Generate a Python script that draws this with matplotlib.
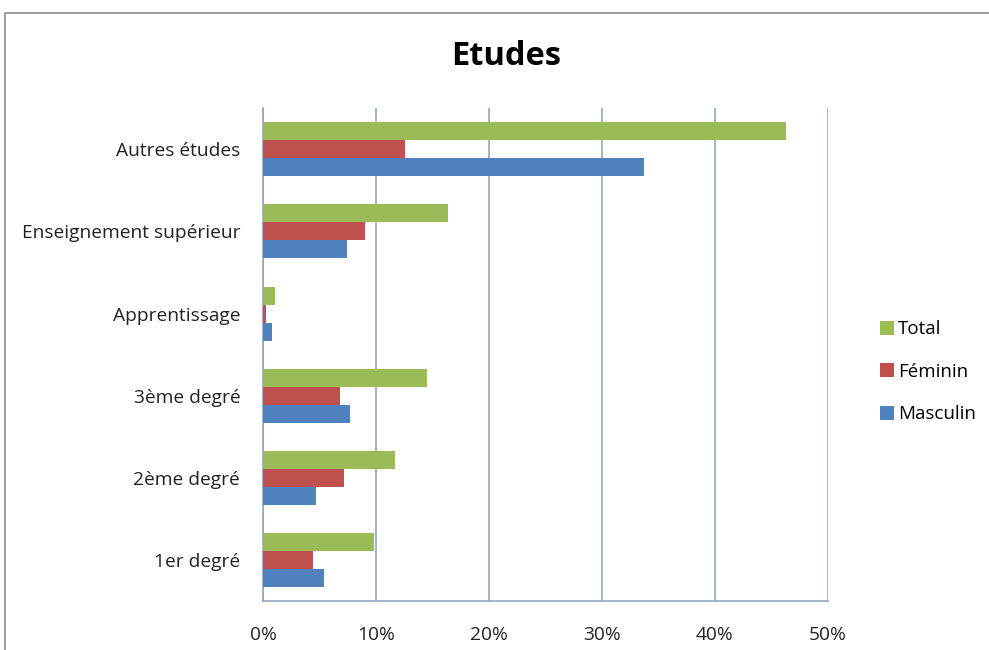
import numpy as np
import matplotlib.pyplot as plt
from matplotlib.patches import Rectangle
from matplotlib.ticker import FuncFormatter

plt.rcParams['font.family'] = ['Open Sans', 'DejaVu Sans']

categories = ['1er degré', '2ème degré', '3ème degré', 'Apprentissage',
              'Enseignement supérieur', 'Autres études']
masculin = [5.4, 4.7, 7.7, 0.8, 7.4, 33.7]
feminin = [4.4, 7.2, 6.8, 0.25, 9.0, 12.6]
total = [9.8, 11.7, 14.5, 1.1, 16.4, 46.3]

series = [('Masculin', masculin, '#4F81BD'),
          ('Féminin', feminin, '#C0504D'),
          ('Total', total, '#9BBB59')]

grid_col = '#8FA9BF'

fig = plt.figure(figsize=(9.89, 6.5), dpi=100)
ax = fig.add_axes([0.266, 0.0754, 0.571, 0.758])

# outer chart frame
fig.patches.append(Rectangle((0.005, -0.02), 1.2, 1.0, transform=fig.transFigure,
                             fill=False, edgecolor='#8C8C8C', linewidth=1.2))

y = np.arange(len(categories))
h = 0.219
for i, (name, vals, col) in enumerate(series):
    ax.barh(y + (i - 1) * h, vals, height=h, color=col, label=name, zorder=3)

ax.set_xlim(0, 50)
ax.set_ylim(-0.5, len(categories) - 0.5)
ax.set_xticks(np.arange(0, 51, 10))
ax.xaxis.set_major_formatter(FuncFormatter(lambda v, p: f'{v:.0f}%'))
ax.set_yticks(y)
ax.set_yticklabels(categories)
ax.tick_params(axis='both', length=0, labelsize=13.8, colors='#222222')
ax.tick_params(axis='x', pad=18)
ax.tick_params(axis='y', pad=16.5)

ax.grid(axis='x', color=grid_col, linewidth=1.2, zorder=0)
for s in ['top', 'right']:
    ax.spines[s].set_visible(False)
for s in ['left', 'bottom']:
    ax.spines[s].set_color(grid_col)
    ax.spines[s].set_linewidth(1.2)

fig.text(0.512, 0.913, 'Etudes', ha='center', va='center',
         fontsize=23.5, fontweight='bold', color='black')

handles, labels = ax.get_legend_handles_labels()
fig.legend(handles[::-1], labels[::-1], loc='center left',
           bbox_to_anchor=(0.873, 0.428), frameon=False, fontsize=13.5,
           handlelength=0.75, handleheight=0.75, handletextpad=0.2,
           labelspacing=1.3)

fig.savefig('out.png', dpi=100)
